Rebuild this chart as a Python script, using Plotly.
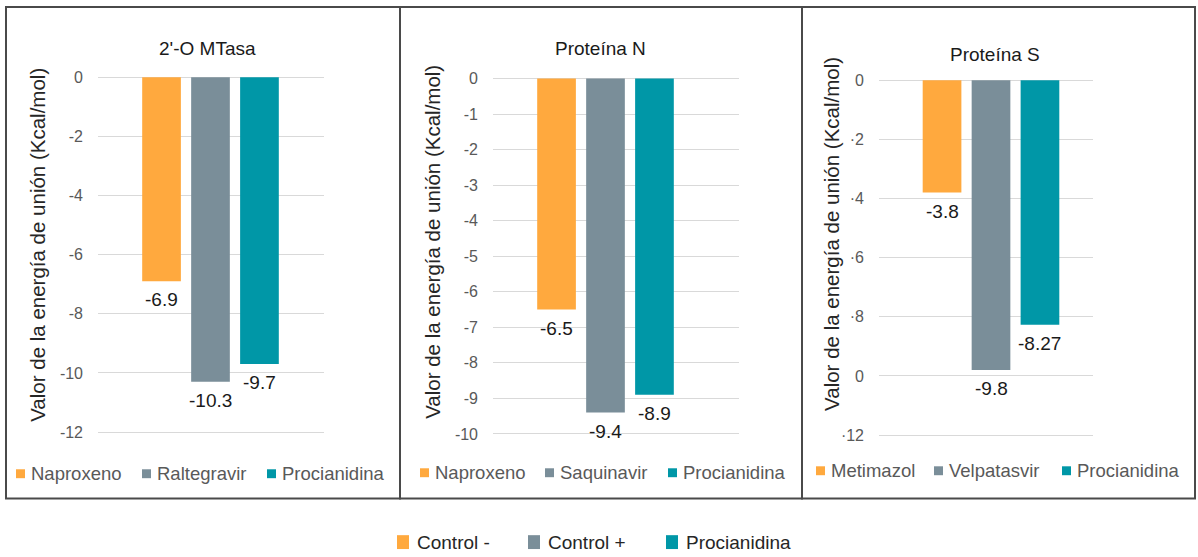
import plotly.graph_objects as go

# ---------------- data ----------------
panel_titles = ["2'-O MTasa", "Proteína N", "Proteína S"]

p1_names = ["Naproxeno", "Raltegravir", "Procianidina"]
p1_values = [-6.9, -10.3, -9.7]

p2_names = ["Naproxeno", "Saquinavir", "Procianidina"]
p2_values = [-6.5, -9.4, -8.9]

p3_names = ["Metimazol", "Velpatasvir", "Procianidina"]
p3_values = [-3.8, -9.8, -8.27]

group_labels = ["Control -", "Control +", "Procianidina"]

p1_tickvals = [0, -2, -4, -6, -8, -10, -12]
p1_ticktext = ["0", "-2", "-4", "-6", "-8", "-10", "-12"]
p2_tickvals = [0, -1, -2, -3, -4, -5, -6, -7, -8, -9, -10]
p2_ticktext = ["0", "-1", "-2", "-3", "-4", "-5", "-6", "-7", "-8", "-9", "-10"]
p3_tickvals = [0, -2, -4, -6, -8, -10, -12]
p3_ticktext = ["0", "·2", "·4", "·6", "·8", "0", "·12"]

y_title = "Valor de la energía de unión (Kcal/mol)"

# ---------------- style ----------------
colors = ["#FFA93E", "#7A8E99", "#0097A7"]
FONT = "Liberation Sans, Arial, sans-serif"
W, H = 1198, 557
BARGAP = 0.35
BARGROUPGAP = 0.21
PX_PER_UNIT_X = 226.0

def px(x):
    return x / W

def py(y):
    return 1 - y / H

# per-panel layout geometry (pixels)
panels = [
    dict(names=p1_names, values=p1_values, tv=p1_tickvals, tt=p1_ticktext,
         plot_x=(98, 324), center=210.5, yrange=(-12.2, 0.2), plot_y=(70, 440),
         title_xy=(207, 47), ytitle_xy=(38, 245),
         leg_sq=[16, 142, 267], leg_y=476),
    dict(names=p2_names, values=p2_values, tv=p2_tickvals, tt=p2_ticktext,
         plot_x=(493, 739), center=605.5, yrange=(-10.2, 0.2), plot_y=(70, 443),
         title_xy=(600, 47), ytitle_xy=(433, 242),
         leg_sq=[420, 545, 668], leg_y=475),
    dict(names=p3_names, values=p3_values, tv=p3_tickvals, tt=p3_ticktext,
         plot_x=(879, 1093), center=991, yrange=(-12.2, 0.2), plot_y=(73, 443),
         title_xy=(995, 53), ytitle_xy=(832, 234),
         leg_sq=[816, 934, 1062], leg_y=473),
]

fig = go.Figure()
annotations = []
shapes = []
slot_px = PX_PER_UNIT_X * (1 - BARGAP) / 3

for k, p in enumerate(panels):
    sfx = "" if k == 0 else str(k + 1)
    for i in range(3):
        fig.add_trace(go.Bar(
            x=[panel_titles[k]], y=[p["values"][i]], name=p["names"][i],
            marker=dict(color=colors[i], line=dict(width=0)),
            xaxis="x" + sfx, yaxis="y" + sfx, showlegend=False,
            hoverinfo="skip",
        ))
        annotations.append(dict(
            x=panel_titles[k], y=p["values"][i], xref="x" + sfx, yref="y" + sfx,
            text=f"{p['values'][i]:g}", showarrow=False,
            xshift=(i - 1) * slot_px, yanchor="top", yshift=-6,
            font=dict(family=FONT, size=19, color="#1a1a1a"),
        ))
    x0, x1 = p["plot_x"]
    left = -(p["center"] - x0) / PX_PER_UNIT_X
    right = (x1 - p["center"]) / PX_PER_UNIT_X
    y0, y1 = p["plot_y"]
    fig.update_layout(**{
        "xaxis" + sfx: dict(domain=[px(x0), px(x1)], range=[left, right],
                            anchor="y" + sfx, showticklabels=False, showgrid=False,
                            zeroline=False, showline=False, ticks="",
                            fixedrange=True),
        "yaxis" + sfx: dict(domain=[py(y1), py(y0)], range=list(p["yrange"]),
                            anchor="x" + sfx, tickvals=p["tv"], ticktext=p["tt"],
                            showgrid=True, gridcolor="#D9D9D9", gridwidth=1,
                            zeroline=False, showline=False, ticks="",
                            ticklabelstandoff=14,
                            tickfont=dict(family=FONT, size=16, color="#595959"),
                            fixedrange=True),
    })
    # panel title
    annotations.append(dict(
        x=px(p["title_xy"][0]), y=py(p["title_xy"][1]), xref="paper", yref="paper",
        text=panel_titles[k], showarrow=False, xanchor="center", yanchor="middle",
        font=dict(family=FONT, size=19, color="#1a1a1a"),
    ))
    # y-axis title
    annotations.append(dict(
        x=px(p["ytitle_xy"][0]), y=py(p["ytitle_xy"][1]), xref="paper", yref="paper",
        text=y_title, showarrow=False, textangle=-90, xanchor="center", yanchor="middle",
        font=dict(family=FONT, size=20.5, color="#262626"),
    ))
    # per-panel legend
    for i in range(3):
        sx = p["leg_sq"][i]
        ly = p["leg_y"]
        shapes.append(dict(type="rect", xref="paper", yref="paper",
                           x0=px(sx), x1=px(sx + 9), y0=py(ly + 4.5), y1=py(ly - 4.5),
                           fillcolor=colors[i], line=dict(width=0)))
        annotations.append(dict(
            x=px(sx + 13), y=py(ly), xref="paper", yref="paper",
            text=p["names"][i], showarrow=False, xanchor="left", yanchor="middle",
            font=dict(family=FONT, size=18.5, color="#595959"),
        ))

# panel borders
for (a, b) in [(6, 400), (400, 802), (802, 1195)]:
    shapes.append(dict(type="rect", xref="paper", yref="paper",
                       x0=px(a), x1=px(b), y0=py(501), y1=py(5),
                       line=dict(color="#4a4a4a", width=2), fillcolor="rgba(0,0,0,0)"))

# bottom common legend
bottom_sq = [397, 528, 666]
bottom_y = 545
for i, lab in enumerate(group_labels):
    sx = bottom_sq[i]
    shapes.append(dict(type="rect", xref="paper", yref="paper",
                       x0=px(sx), x1=px(sx + 12), y0=py(bottom_y + 7), y1=py(bottom_y - 7),
                       fillcolor=colors[i], line=dict(width=0)))
    annotations.append(dict(
        x=px(sx + 18), y=py(bottom_y), xref="paper", yref="paper",
        text=lab, showarrow=False, xanchor="left", yanchor="middle",
        font=dict(family=FONT, size=19, color="#262626"),
    ))

fig.update_layout(
    width=W, height=H, autosize=False,
    margin=dict(l=0, r=0, t=0, b=0, pad=0),
    paper_bgcolor="white", plot_bgcolor="white",
    barmode="group", bargap=BARGAP, bargroupgap=BARGROUPGAP,
    showlegend=False,
    annotations=annotations, shapes=shapes,
    font=dict(family=FONT),
)

fig.write_html(
    "out.html",
    config={"displayModeBar": False, "staticPlot": True},
    post_script="document.body.style.margin='0';document.body.style.overflow='hidden';",
)
